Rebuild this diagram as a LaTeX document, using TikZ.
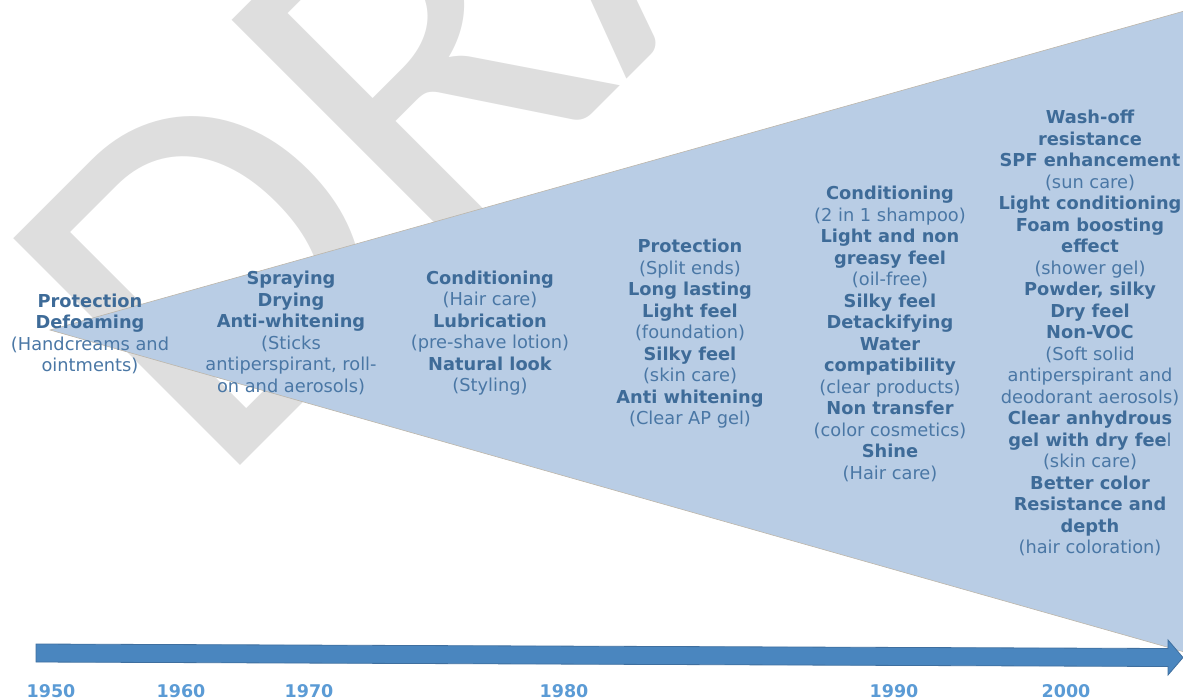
\documentclass[tikz,border=0pt]{standalone}
\usepackage{fontspec}
\setmainfont{DejaVu Sans}
\setsansfont{DejaVu Sans}
\newfontfamily\wmfont{Carlito}
\usetikzlibrary{calc}
\definecolor{wedgeblue}{HTML}{B9CDE5}
\definecolor{wedgeedge}{HTML}{BDB6AA}
\definecolor{keyblue}{HTML}{3E6B98}
\definecolor{noteblue}{HTML}{4A77A5}
\definecolor{barblue}{HTML}{4A86BF}
\definecolor{baredge}{HTML}{3F6F9F}
\definecolor{yearblue}{HTML}{5B9BD5}
\definecolor{wmgray}{HTML}{DEDEDE}
\newcommand{\benefit}[1]{{\color{keyblue}\bfseries #1}}

\begin{document}
\begin{tikzpicture}[x=1pt,y=-1pt,font=\sffamily]
        \tikzset{uses/.style={align=center,inner sep=0pt,text=noteblue,font=\fontsize{17.8}{21.5}\selectfont}}
        \tikzset{year/.style={anchor=base,inner sep=0pt,text=yearblue,font=\fontsize{17.5}{20}\selectfont\bfseries}}
        \tikzset{wedge/.style={fill=wedgeblue,draw=wedgeedge,line width=0.6pt}}
        \tikzset{timeline/.style={fill=barblue,draw=baredge,line width=0.8pt,line join=miter}}
        \tikzset{watermark/.style={rotate=45,anchor=base west,inner sep=0pt,text=wmgray,font=\wmfont\fontsize{500}{500}\selectfont}}
        \useasboundingbox (0,0) rectangle (1183,697);
        \clip (0,0) rectangle (1183,697);
        \node[watermark] (W) at (216,490) {DRAFT};
        \coordinate (apex) at (50,330);
        \filldraw[wedge] (apex) -- (1195,8) -- (1195,655) -- cycle;
        \node[uses] (T1) at (90,334) {\benefit{Protection}\\\benefit{Defoaming}\\(Handcreams and\\ointments)};
        \node[uses] (T2) at (291,333) {\benefit{Spraying}\\\benefit{Drying}\\\benefit{Anti-whitening}\\(Sticks\\antiperspirant, roll-\\on and aerosols)};
        \node[uses] (T3) at (490,333) {\benefit{Conditioning}\\(Hair care)\\\benefit{Lubrication}\\(pre-shave lotion)\\\benefit{Natural look}\\(Styling)};
        \node[uses] (T4) at (690,334) {\benefit{Protection}\\(Split ends)\\\benefit{Long lasting}\\\benefit{Light feel}\\(foundation)\\\benefit{Silky feel}\\(skin care)\\\benefit{Anti whitening}\\(Clear AP gel)};
        \node[uses] (T5) at (890,334) {\benefit{Conditioning}\\(2 in 1 shampoo)\\\benefit{Light and non}\\\benefit{greasy feel}\\(oil-free)\\\benefit{Silky feel}\\\benefit{Detackifying}\\\benefit{Water}\\\benefit{compatibility}\\(clear products)\\\benefit{Non transfer}\\(color cosmetics)\\\benefit{Shine}\\(Hair care)};
        \node[uses] (T6) at (1090,333) {\benefit{Wash-off}\\\benefit{resistance}\\\benefit{SPF enhancement}\\(sun care)\\\benefit{Light conditioning}\\\benefit{Foam boosting}\\\benefit{effect}\\(shower gel)\\\benefit{Powder, silky}\\\benefit{Dry feel}\\\benefit{Non-VOC}\\(Soft solid\\antiperspirant and\\deodorant aerosols)\\\benefit{Clear anhydrous}\\\benefit{gel with dry fee}l\\(skin care)\\\benefit{Better color}\\\benefit{Resistance and}\\\benefit{depth}\\(hair coloration)};
        % time axis
        \coordinate (tail) at (36,653);
        \coordinate (tip) at (1183,657.5);
        \filldraw[timeline] ($(tail)+(0,-9)$) -- ($(tip)+(-15,-9)$) -- ($(tip)+(-15,-17.5)$) -- (tip)
            -- ($(tip)+(-15,17.5)$) -- ($(tip)+(-15,9)$) -- ($(tail)+(0,9)$) -- cycle;
        \node[year] (Y1950) at (51,697) {1950};
        \node[year] (Y1960) at (181,697) {1960};
        \node[year] (Y1970) at (309,697) {1970};
        \node[year] (Y1980) at (564,697) {1980};
        \node[year] (Y1990) at (894,697) {1990};
        \node[year] (Y2000) at (1066,697) {2000};
\end{tikzpicture}
\end{document}
